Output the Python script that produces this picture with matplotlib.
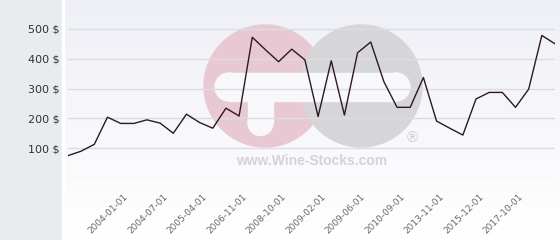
import numpy as np
import matplotlib
matplotlib.use('Agg')
import matplotlib.pyplot as plt
import matplotlib.transforms as mtransforms
from matplotlib.patches import Circle, Rectangle

# price per bottle, one point per quote date (category axis)
prices = [75, 90, 113, 204, 183, 183, 195, 184, 150, 214, 186, 167, 234, 208,
          472, 430, 390, 432, 396, 206, 393, 211, 420, 456, 323, 237, 237, 337,
          191, 167, 144, 265, 287, 287, 237, 298, 478, 450]
tick_labels = ['2004-01-01', '2004-07-01', '2005-04-01', '2006-11-01',
               '2008-10-01', '2009-02-01', '2009-06-01', '2010-09-01',
               '2013-11-01', '2015-12-01', '2017-10-01']
y_ticks = [0, 100, 200, 300, 400, 500]

W, H = 560, 240
fig = plt.figure(figsize=(W / 100, H / 100), dpi=100)

# background layer in pixel coordinates
bg = fig.add_axes([0, 0, 1, 1], zorder=0)
bg.set_xlim(0, W)
bg.set_ylim(H, 0)
bg.axis('off')
grad = np.linspace(0, 1, 100).reshape(-1, 1)
top = np.array([0.937, 0.941, 0.965])
bot = np.array([1.0, 1.0, 1.0])
img = top + (bot - top) * grad[..., None]
bg.imshow(img, extent=[63, W, H, 0], aspect='auto', zorder=0)
bg.add_patch(Rectangle((0, 0), 62, H, color='#e8ecef', zorder=1))
bg.add_patch(Rectangle((62, 0), 2, H, color='#ffffff', zorder=1))

# watermark logo (two discs with a white plus / minus)
white = '#f8f8fb'
bg.add_patch(Circle((265, 86), 61, color='#e8c9d3', zorder=2))
bg.add_patch(Circle((361, 86), 61, color='#d6d6d9', zorder=3))
bg.add_patch(Rectangle((229, 73), 167, 28, color=white, zorder=4))
bg.add_patch(Circle((229, 87), 14, color=white, zorder=4))
bg.add_patch(Circle((396, 87), 14, color=white, zorder=4))
bg.add_patch(Rectangle((248, 80), 25, 43, color=white, zorder=4))
bg.add_patch(Circle((260.5, 123), 12.5, color=white, zorder=4))
bg.text(312, 161, 'www.Wine-Stocks.com', fontsize=10, fontweight='bold',
        family='Liberation Sans', color='#d4d4d7', ha='center', va='center', zorder=5)
bg.text(412, 138, '\u00ae', fontsize=11, family='Liberation Sans',
        color='#cdcdd1', ha='center', va='center', zorder=5)

# main chart
ax = fig.add_axes([68 / W, 62 / H, 487 / W, 167 / H], zorder=1)
ax.patch.set_alpha(0)
x = np.arange(len(prices))
ax.plot(x, prices, color='#2e1822', lw=1, zorder=3)
ax.set_xlim(0, len(prices) - 1)
ax.set_ylim(0, 560)

ax.set_yticks(y_ticks)
ax.set_yticklabels([''] + [f'{v} $' for v in y_ticks[1:]])
ax.grid(axis='y', color='#dcdde2', lw=1)
ax.set_axisbelow(True)

# every third quote date is labelled
tick_pos = x[4::3][:len(tick_labels)]
ax.set_xticks(tick_pos)
ax.set_xticklabels(tick_labels, rotation=45, ha='right', va='top',
                   rotation_mode='anchor', fontsize=6.5, color='#6a6a6a')
ax.tick_params(axis='x', length=0, pad=10)
ax.tick_params(axis='y', length=0, pad=6, labelsize=8, labelcolor='#333333')
shift = mtransforms.ScaledTranslation(3 / 100, 0, fig.dpi_scale_trans)
for lbl in ax.get_xticklabels():
    lbl.set_transform(lbl.get_transform() + shift)
for s in ax.spines.values():
    s.set_visible(False)

plt.savefig('out.png', dpi=100)
